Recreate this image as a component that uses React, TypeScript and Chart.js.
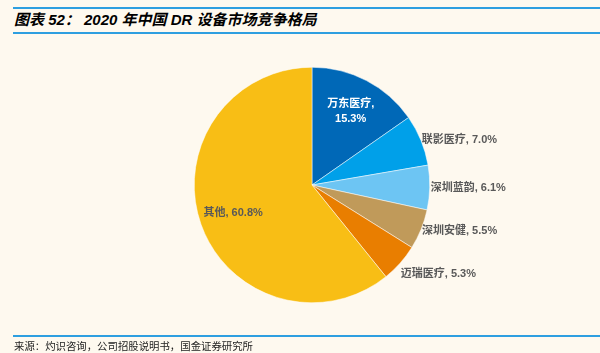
import React, { useEffect, useRef } from "react";
import { Chart, registerables } from "chart.js";

Chart.register(...registerables);

const categories = ["万东医疗", "联影医疗", "深圳蓝韵", "深圳安健", "迈瑞医疗", "其他"];
const shares = [15.3, 7.0, 6.1, 5.5, 5.3, 60.8];
const colors = ["#0068B7", "#00A0E9", "#6DC5F3", "#C09A5A", "#E97E00", "#F8BE15"];

const TITLE = "图表 52： 2020 年中国 DR 设备市场竞争格局";
const SOURCE = "来源：灼识咨询，公司招股说明书，国金证券研究所";

// label placement style: inside (true) or outside, and small vertical nudges
const insideLabel = [true, false, false, false, false, true];
const labelNudgeY = [0, 0, 0, 1, 10, 0];

const FONT = '"Liberation Sans", "Noto Sans CJK SC", sans-serif';

const labelPlugin = {
  id: "pieLabels",
  afterDatasetsDraw(chart: any) {
    const ctx = chart.ctx;
    const meta = chart.getDatasetMeta(0);
    ctx.save();
    ctx.font = `bold 11px ${FONT}`;
    ctx.textBaseline = "middle";
    meta.data.forEach((arc: any, i: number) => {
      const { x, y, startAngle, endAngle, outerRadius } = arc.getProps(
        ["x", "y", "startAngle", "endAngle", "outerRadius"],
        true
      );
      const mid = (startAngle + endAngle) / 2;
      const val = shares[i].toFixed(1) + "%";
      if (insideLabel[i]) {
        const r = outerRadius * 0.71;
        const px = x + r * Math.cos(mid);
        const py = y + r * Math.sin(mid);
        ctx.textAlign = "center";
        if (i === 0) {
          ctx.fillStyle = "#FFFFFF";
          ctx.fillText(categories[i] + ",", px, py - 7);
          ctx.fillText(val, px, py + 8);
        } else {
          ctx.fillStyle = "#595959";
          ctx.fillText(categories[i] + ", " + val, px, py);
        }
      } else {
        const r = outerRadius + 1;
        const px = x + r * Math.cos(mid);
        const py = y + r * Math.sin(mid) + labelNudgeY[i];
        ctx.textAlign = "left";
        ctx.fillStyle = "#595959";
        ctx.fillText(categories[i] + ", " + val, px, py);
      }
    });
    ctx.restore();
  },
};

export default function App() {
  const ref = useRef<HTMLCanvasElement>(null);
  useEffect(() => {
    document.body.style.margin = "0";
    const chart = new Chart(ref.current!, {
      type: "pie",
      data: {
        labels: categories,
        datasets: [
          {
            data: shares,
            backgroundColor: colors,
            borderColor: "#FFFFFF",
            borderWidth: 0.5,
          },
        ],
      },
      options: {
        animation: false,
        responsive: false,
        layout: { padding: { left: 194, right: 170, top: 67, bottom: 50 } },
        plugins: {
          legend: { display: false },
          tooltip: { enabled: false },
          title: { display: false },
        },
      },
      plugins: [labelPlugin],
    });
    return () => chart.destroy();
  }, []);

  const line = (top: number) => (
    <div
      style={{
        position: "absolute",
        left: 13,
        right: 0,
        top,
        height: 2,
        background: "#2E9FE0",
      }}
    />
  );

  return (
    <div
      style={{
        position: "relative",
        width: 600,
        height: 353,
        background: "#FEF9EF",
        overflow: "hidden",
      }}
    >
      {line(7)}
      <div
        style={{
          position: "absolute",
          left: 14,
          top: 10,
          font: `italic bold 15px ${FONT}`,
          color: "#000",
          whiteSpace: "nowrap",
          lineHeight: "20px",
        }}
      >
        {TITLE}
      </div>
      {line(32)}
      <canvas
        ref={ref}
        width={600}
        height={353}
        style={{ position: "absolute", left: 0, top: 0 }}
      />
      {line(335)}
      <div
        style={{
          position: "absolute",
          left: 14,
          top: 339,
          font: `10.4px "Noto Sans CJK SC", sans-serif`,
          color: "#222",
          whiteSpace: "nowrap",
          lineHeight: "14px",
        }}
      >
        {SOURCE}
      </div>
    </div>
  );
}
